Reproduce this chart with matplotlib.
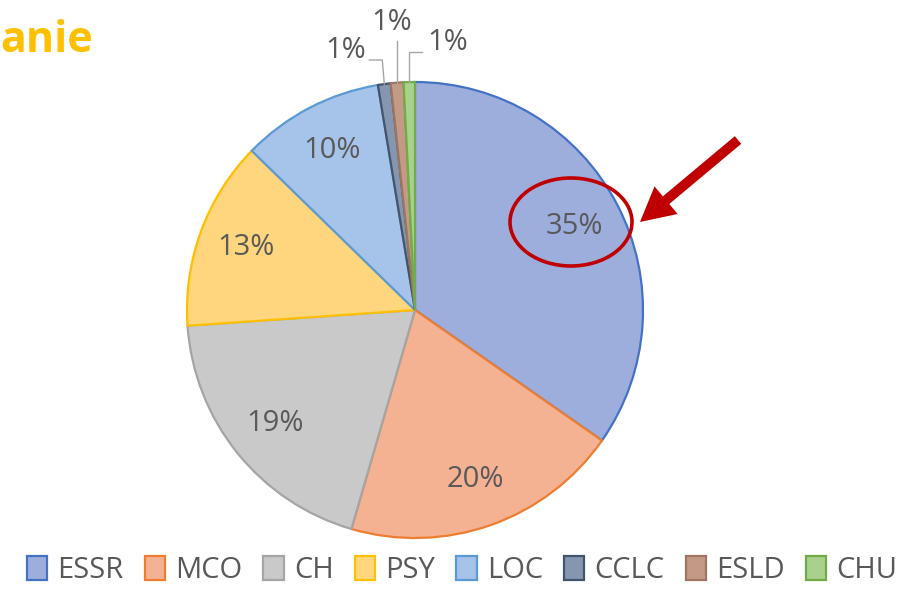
import matplotlib
matplotlib.use("Agg")
import matplotlib.pyplot as plt
from matplotlib.patches import Patch, Ellipse, FancyArrow
import numpy as np

categories = ["ESSR", "MCO", "CH", "PSY", "LOC", "CCLC", "ESLD", "CHU"]
values = [34.7, 19.8, 19.4, 13.4, 10.1, 0.9, 0.9, 0.8]
fill_colors = ["#9DAEDD", "#F5B293", "#C9C9C9", "#FFD67E", "#A6C4EA", "#8496B0", "#C39A86", "#A9D18E"]
edge_colors = ["#4472C4", "#ED7D31", "#A5A5A5", "#FFC000", "#5B9BD5", "#44546A", "#9E7560", "#70AD47"]

plt.rcParams['font.family'] = ['Open Sans', 'DejaVu Sans']
W, H = 915, 590
fig = plt.figure(figsize=(W / 100, H / 100), dpi=100)
ax = fig.add_axes([0, 0, 1, 1])

cx, cy, R = 415, H - 310, 228
wedges, _ = ax.pie(values, startangle=90, counterclock=False, radius=R,
                   center=(cx, cy), colors=fill_colors,
                   wedgeprops=dict(linewidth=1.6))
for w, ec in zip(wedges, edge_colors):
    w.set_edgecolor(ec)

txt_col = "#595959"
lab_fs = 21
total = sum(values)
labels = ["%d%%" % round(v / total * 100) for v in values]
# big slices: labels inside
for w, lab in list(zip(wedges, labels))[:5]:
    ang = np.deg2rad((w.theta1 + w.theta2) / 2)
    r = 0.79 * R
    ax.text(cx + r * np.cos(ang), cy + r * np.sin(ang), lab, ha="center", va="center",
            fontsize=lab_fs, color=txt_col)

# small slices: labels with leader lines
lead = "#A6A6A6"
small = list(zip(wedges, labels))[5:]
# CCLC
w, lab = small[0]
a = np.deg2rad((w.theta1 + w.theta2) / 2)
x0, y0 = cx + R * np.cos(a), cy + R * np.sin(a)
ax.plot([x0, x0 - 2, x0 - 15], [y0, H - 60, H - 60], color=lead, lw=1)
ax.text(x0 - 39, H - 50, lab, ha="center", va="center", fontsize=lab_fs, color=txt_col)
# ESLD
w, lab = small[1]
a = np.deg2rad((w.theta1 + w.theta2) / 2)
x0, y0 = cx + R * np.cos(a), cy + R * np.sin(a)
ax.plot([x0, x0], [y0, H - 41], color=lead, lw=1)
ax.text(x0 - 5, H - 22, lab, ha="center", va="center", fontsize=lab_fs, color=txt_col)
# CHU
w, lab = small[2]
a = np.deg2rad((w.theta1 + w.theta2) / 2)
x0, y0 = cx + R * np.cos(a), cy + R * np.sin(a)
ax.plot([x0, x0, x0 + 13], [y0, H - 52, H - 52], color=lead, lw=1)
ax.text(x0 + 38, H - 42, lab, ha="center", va="center", fontsize=lab_fs, color=txt_col)

# red highlight
red = "#C00000"
ax.add_patch(Ellipse((571, H - 222), 122, 88, fill=False, edgecolor=red, lw=2.6))
ax.add_patch(FancyArrow(738, H - 140, 640 - 738, (H - 222) - (H - 140), width=10,
                        head_width=36, head_length=34, length_includes_head=True,
                        color=red, lw=0))

# cropped title
ax.text(0, H - 40, "anie", ha="left", va="center", fontsize=31, fontweight="bold",
        color="#FFC000")

handles = [Patch(facecolor=f, edgecolor=e, lw=1.6) for f, e in zip(fill_colors, edge_colors)]
leg = fig.legend(handles, categories, loc="lower center", bbox_to_anchor=(0.505, -0.036), ncol=8,
                 frameon=False, fontsize=21, handlelength=0.7, handleheight=0.85,
                 handletextpad=0.35, columnspacing=0.72, labelcolor=txt_col)

ax.set_xlim(0, W)
ax.set_ylim(0, H)
ax.set_aspect("equal")
ax.axis("off")
fig.savefig("out.png", dpi=100)
